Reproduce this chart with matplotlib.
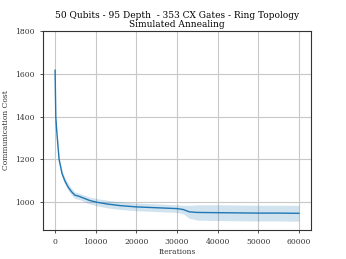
import numpy as np
import matplotlib
matplotlib.use("Agg")
import matplotlib.pyplot as plt

plt.rcParams['font.family'] = ['DejaVu Serif']

# datos
iters = [0, 170, 340, 660, 990, 1720, 2400, 3200, 4000, 4840, 5800, 6900, 8500,
         10200, 13000, 16000, 20000, 25000, 30000, 31500, 33000, 35000, 40000,
         45000, 50000, 55000, 60000]
cost_mean = [1617, 1400, 1350, 1273, 1199, 1133, 1100, 1071, 1050, 1033, 1028,
             1020, 1008, 1000, 991, 984, 978, 974, 970, 966, 955, 952, 951, 950,
             949, 949, 948]
cost_std = [2, 5, 8, 10, 12, 14, 15, 16, 16, 15, 15, 15, 16, 17, 18, 18, 18, 18,
            18, 20, 30, 36, 37, 37, 37, 37, 37]

x = np.array(iters)
m = np.array(cost_mean)
s = np.array(cost_std)

fig = plt.figure(figsize=(3.46, 2.59), dpi=100)
ax = fig.add_axes([0.124, 0.112, 0.775, 0.768])

ax.plot(x, m, color='#1f77b4', lw=1.0)
ax.fill_between(x, m - s, m + s, color='#1f77b4', alpha=0.2, lw=0)

ax.set_ylim(870, 1800)
ax.set_xlim(-3000, 63000)
ax.set_xticks([0, 10000, 20000, 30000, 40000, 50000, 60000])
ax.set_yticks([1000, 1200, 1400, 1600, 1800])
ax.grid(True, color='#c8c8c8', lw=0.8)
ax.set_axisbelow(True)
ax.tick_params(labelsize=5.5, length=2.5, width=0.6, colors='#333333')
for sp in ax.spines.values():
    sp.set_linewidth(0.8)
    sp.set_color('#333333')

ax.set_xlabel('Iterations', fontsize=5.5, labelpad=1, color='#333333')
ax.set_ylabel('Communication Cost', fontsize=5.5, labelpad=4, color='#333333')
ax.set_title('50 Qubits - 95 Depth  - 353 CX Gates - Ring Topology\nSimulated Annealing',
             fontsize=6.5, pad=3, linespacing=1.0)

fig.savefig('out.png', dpi=100)
